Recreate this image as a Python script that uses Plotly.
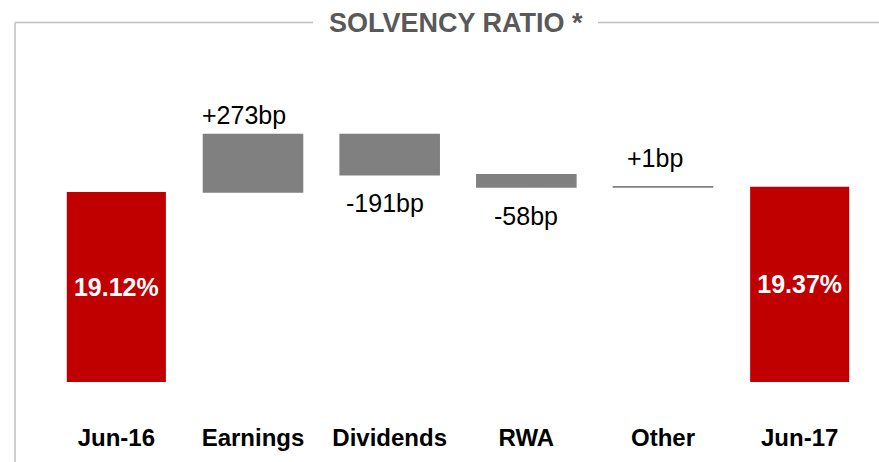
import plotly.graph_objects as go

categories = ["Jun-16", "Earnings", "Dividends", "RWA", "Other", "Jun-17"]
start_value = 19.12
end_value = 19.37
delta_values = [2.73, -1.91, -0.58, 0.01]
delta_labels = ["+273bp", "-191bp", "-58bp", "+1bp"]
total_labels = ["19.12%", "19.37%"]

# layout / style settings
Y_MIN, Y_MAX = 10.13, 26.27
RED = "#C00000"
GREY = "#808080"
FRAME = "#BFBFBF"
label_yshift = [3, -12, -13, 13]
label_xshift = [-9, -5, 0, -8]
L, R, T, B, W, H = 48, 11, 41, 78, 879, 462
pw, ph = W - L - R, H - T - B

def px_x(p):
    return (p - L) / pw

def px_y(p):
    return (H - B - p) / ph

fig = go.Figure()

# total bars
fig.add_trace(go.Bar(
    x=[categories[0], categories[-1]],
    y=[start_value - Y_MIN, end_value - Y_MIN],
    base=[Y_MIN, Y_MIN],
    marker=dict(color=RED, line=dict(width=0)),
    text=total_labels,
    textposition="inside",
    insidetextanchor="middle",
    textfont=dict(family="Liberation Sans, Arial", size=25, color="white", weight="bold"),
    width=0.725,
    hoverinfo="skip",
))

# delta bars
bases = []
ends = []
level = start_value
for d in delta_values:
    bases.append(level)
    level += d
    ends.append(level)

fig.add_trace(go.Bar(
    x=categories[1:-1],
    y=delta_values,
    base=bases,
    marker=dict(color=GREY, line=dict(color=GREY, width=1.5)),
    width=0.725,
    hoverinfo="skip",
))

for cat, d, e, lab, sy, sx in zip(categories[1:-1], delta_values, ends, delta_labels,
                                   label_yshift, label_xshift):
    fig.add_annotation(
        x=cat, y=e, xref="x", yref="y",
        text=lab, showarrow=False,
        yanchor="bottom" if d > 0 else "top",
        yshift=sy, xshift=sx,
        font=dict(family="Liberation Sans, Arial", size=25, color="black"),
    )

# frame with title
top_y = px_y(22.5)
left_x = px_x(15)
fig.add_shape(type="line", xref="paper", yref="paper", x0=left_x, x1=left_x,
              y0=px_y(470), y1=top_y, line=dict(color=FRAME, width=1.5))
fig.add_shape(type="line", xref="paper", yref="paper", x0=left_x, x1=px_x(313),
              y0=top_y, y1=top_y, line=dict(color=FRAME, width=1.5))
fig.add_shape(type="line", xref="paper", yref="paper", x0=px_x(598), x1=px_x(885),
              y0=top_y, y1=top_y, line=dict(color=FRAME, width=1.5))
fig.add_annotation(
    x=px_x(456), y=top_y, xref="paper", yref="paper",
    text="<b>SOLVENCY RATIO *</b>", showarrow=False,
    xanchor="center", yanchor="middle",
    font=dict(family="Liberation Sans, Arial", size=27, color="#595959"),
)

fig.update_layout(
    width=W, height=H,
    margin=dict(l=L, r=R, t=T, b=B, pad=0),
    paper_bgcolor="white", plot_bgcolor="white",
    showlegend=False,
    barmode="overlay",
    xaxis=dict(
        categoryorder="array", categoryarray=categories,
        showgrid=False, zeroline=False, showline=False, ticks="",
        tickfont=dict(family="Liberation Sans, Arial", size=24, color="black", weight="bold"),
        ticklabelstandoff=39,
    ),
    yaxis=dict(range=[Y_MIN, Y_MAX], visible=False),
)

fig.write_html("out.html", config={"displayModeBar": False},
               post_script="document.body.style.margin='0px';")
